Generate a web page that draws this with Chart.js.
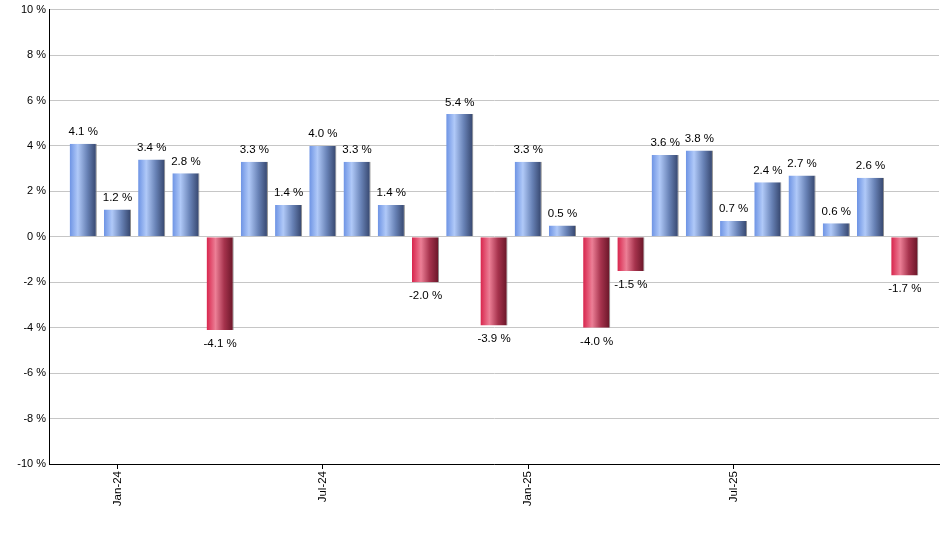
<!DOCTYPE html>
<html>
<head>
<meta charset="utf-8">
<script src="https://cdn.jsdelivr.net/npm/chart.js@4/dist/chart.umd.min.js"></script>
<style>
  html, body { margin: 0; padding: 0; background: #fff; }
  #wrap { width: 940px; height: 550px; position: relative; }
</style>
</head>
<body>
<div id="wrap"><canvas id="chart"></canvas></div>
<script>
// monthly returns, Dec-23 .. Dec-25
const months = ['Dec-23', 'Jan-24', 'Feb-24', 'Mar-24', 'Apr-24', 'May-24', 'Jun-24', 'Jul-24', 'Aug-24',
    'Sep-24', 'Oct-24', 'Nov-24', 'Dec-24', 'Jan-25', 'Feb-25', 'Mar-25', 'Apr-25', 'May-25', 'Jun-25',
    'Jul-25', 'Aug-25', 'Sep-25', 'Oct-25', 'Nov-25', 'Dec-25'];
const returns = [4.1, 1.2, 3.4, 2.8, -4.1, 3.3, 1.4, 4.0, 3.3, 1.4, -2.0, 5.4, -3.9, 3.3, 0.5, -4.0, -1.5,
    3.6, 3.8, 0.7, 2.4, 2.7, 0.6, 2.6, -1.7];
const shownMonths = ['Jan-24', 'Jul-24', 'Jan-25', 'Jul-25'];
const yTicks = [-10, -8, -6, -4, -2, 0, 2, 4, 6, 8, 10];

const FONT = '"Liberation Sans", Arial, sans-serif';
const BAR_FRACTION = 0.79;

function barGradient(ctx) {
    const chart = ctx.chart;
    const v = ctx.raw ? ctx.raw.y : 0;
    const pos = v >= 0;
    if (!chart.chartArea || !ctx.raw) return pos ? '#7f9ee0' : '#c03050';
    const xs = chart.scales.x;
    const cx = xs.getPixelForValue(ctx.raw.x);
    const half = (xs.getPixelForValue(1) - xs.getPixelForValue(0)) * BAR_FRACTION / 2;
    const g = chart.ctx.createLinearGradient(cx - half, 0, cx + half, 0);
    if (pos) {
        g.addColorStop(0, '#6d93e4');
        g.addColorStop(0.3, '#b0c9f8');
        g.addColorStop(0.65, '#6882b6');
        g.addColorStop(1, '#33436a');
    } else {
        g.addColorStop(0, '#d8244c');
        g.addColorStop(0.33, '#ec7f96');
        g.addColorStop(0.65, '#a6334d');
        g.addColorStop(1, '#661426');
    }
    return g;
}

// value labels above / below each bar
const valueLabels = {
    id: 'valueLabels',
    afterDatasetsDraw(chart) {
        const ctx = chart.ctx;
        const meta = chart.getDatasetMeta(0);
        ctx.save();
        ctx.font = '11.5px ' + FONT;
        ctx.fillStyle = '#000';
        ctx.textAlign = 'center';
        meta.data.forEach((bar, i) => {
            const v = returns[i];
            const txt = v.toFixed(1) + ' %';
            if (v >= 0) {
                ctx.textBaseline = 'bottom';
                ctx.fillText(txt, bar.x, bar.y - 6);
            } else {
                ctx.textBaseline = 'top';
                ctx.fillText(txt, bar.x, bar.y + 8);
            }
        });
        ctx.restore();
    }
};

new Chart(document.getElementById('chart'), {
    type: 'bar',
    data: {
        datasets: [{
            data: returns.map((v, i) => ({ x: i + 1, y: v })),
            backgroundColor: barGradient,
            borderColor: '#8c8c8c',
            borderWidth: { right: 1, left: 0, top: 0, bottom: 0 },
            borderSkipped: false,
            barPercentage: 0.88,
            categoryPercentage: 0.9
        }]
    },
    options: {
        responsive: true,
        maintainAspectRatio: false,
        animation: false,
        layout: { padding: { top: 9, right: 1, left: 0, bottom: 0 } },
        plugins: {
            legend: { display: false },
            tooltip: { enabled: false }
        },
        scales: {
            x: {
                type: 'linear',
                min: 0,
                max: months.length + 1,
                offset: false,
                afterBuildTicks(scale) {
                    scale.ticks = shownMonths.map(m => ({ value: months.indexOf(m) + 1 }));
                },
                afterFit(scale) { scale.height = 86; },
                ticks: {
                    autoSkip: false,
                    minRotation: 90,
                    maxRotation: 90,
                    padding: 2,
                    color: '#000',
                    font: { family: FONT, size: 11.5 },
                    callback: v => months[v - 1] || ''
                },
                grid: {
                    offset: false,
                    drawOnChartArea: false,
                    drawTicks: true,
                    tickLength: 5,
                    color: '#000'
                },
                border: { display: true, color: '#000', width: 1 }
            },
            y: {
                min: -10,
                max: 10,
                afterBuildTicks(scale) {
                    scale.ticks = yTicks.map(v => ({ value: v }));
                },
                afterFit(scale) { scale.width = 49; },
                ticks: {
                    padding: 3,
                    color: '#000',
                    font: { family: FONT, size: 11 },
                    callback: v => v + ' %'
                },
                grid: {
                    color: '#c6c6c6',
                    lineWidth: 1,
                    drawTicks: false
                },
                border: { display: true, color: '#000', width: 1 }
            }
        }
    },
    plugins: [valueLabels]
});
</script>
</body>
</html>
